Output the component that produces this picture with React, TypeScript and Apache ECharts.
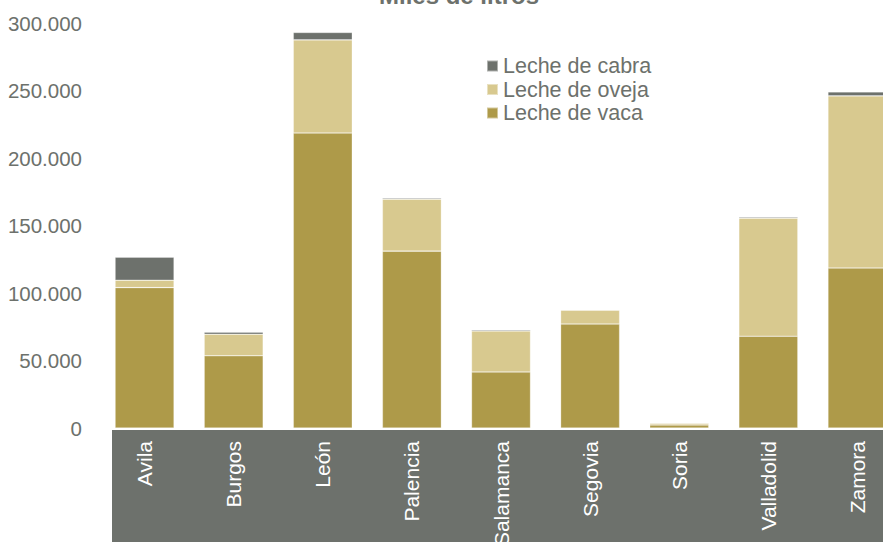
import React, { useEffect, useRef } from "react";
import * as echarts from "echarts";

const categories = ["Avila", "Burgos", "León", "Palencia", "Salamanca", "Segovia", "Soria", "Valladolid", "Zamora"];
const vaca = [104000, 53500, 218500, 131000, 41500, 77000, 2200, 68000, 118500];
const oveja = [5500, 16000, 69000, 38500, 30300, 10300, 1300, 87500, 127500];
const cabra = [17000, 1500, 5500, 800, 800, 500, 200, 800, 3000];
const yTicks = [0, 50000, 100000, 150000, 200000, 250000, 300000];

const fmt = (v: number) => (v === 0 ? "0" : String(v).replace(/\B(?=(\d{3})+(?!\d))/g, "."));

export default function App() {
  const ref = useRef<HTMLDivElement>(null);
  useEffect(() => {
    if (!ref.current) return;
    const chart = echarts.init(ref.current, undefined, { renderer: "svg" });
    const font = "'Liberation Sans', Arial, sans-serif";
    const barStyle = (color: string) => ({
      color,
      borderColor: "rgba(255,255,255,0.45)",
      borderWidth: 0.6,
    });
    chart.setOption({
      animation: false,
      title: {
        text: "Miles de litros",
        left: 454,
        textAlign: "center",
        top: -22,
        textStyle: { fontFamily: font, fontSize: 24, fontWeight: "bold", color: "#6d716c" },
      },
      legend: {
        orient: "vertical",
        left: 481,
        top: 50,
        itemWidth: 11,
        itemHeight: 11,
        itemGap: 1.5,
        icon: "rect",
        data: ["Leche de cabra", "Leche de oveja", "Leche de vaca"],
        textStyle: { fontFamily: font, fontSize: 21.5, color: "#6d716c" },
      },
      graphic: [
        {
          type: "rect",
          z: -1,
          shape: { x: 112, y: 430, width: 790, height: 120 },
          style: { fill: "#6d716c" },
        },
      ],
      grid: { left: 100, top: 23, right: -19, bottom: 114, containLabel: false, outerBoundsMode: "none" },
      xAxis: {
        type: "category",
        data: categories,
        axisLine: { show: false },
        axisTick: { show: false },
        axisLabel: {
          rotate: 90,
          margin: 13,
          color: "#ffffff",
          fontFamily: font,
          fontSize: 21,
        },
      },
      yAxis: {
        type: "value",
        min: 0,
        max: 300000,
        interval: 50000,
        splitLine: { show: false },
        axisLine: { show: false },
        axisTick: { show: false },
        axisLabel: {
          margin: 18,
          color: "#6d716c",
          fontFamily: font,
          fontSize: 20.5,
          formatter: (v: number) => (yTicks.includes(v) ? fmt(v) : ""),
        },
      },
      series: [
        { name: "Leche de vaca", type: "bar", stack: "t", data: vaca, barWidth: 59, itemStyle: barStyle("#ae9a49") },
        { name: "Leche de oveja", type: "bar", stack: "t", data: oveja, barWidth: 59, itemStyle: barStyle("#d8c98f") },
        { name: "Leche de cabra", type: "bar", stack: "t", data: cabra, barWidth: 59, itemStyle: barStyle("#6d716c") },
      ],
    });
    return () => chart.dispose();
  }, []);
  return <div ref={ref} style={{ width: 883, height: 542, position: "absolute", left: 0, top: 0 }} />;
}
